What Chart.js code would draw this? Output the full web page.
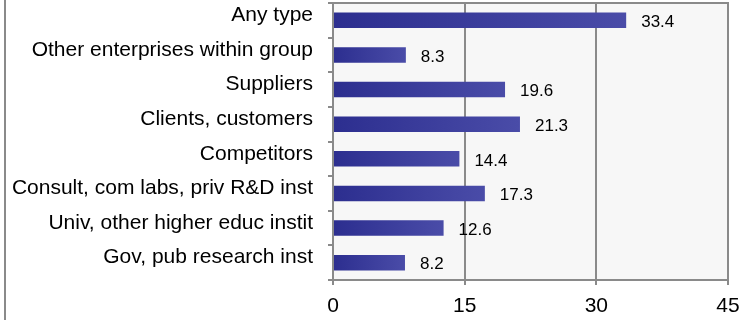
<!DOCTYPE html>
<html>
<head>
<meta charset="utf-8">
<script src="https://cdn.jsdelivr.net/npm/chart.js@4/dist/chart.umd.min.js"></script>
<style>
  html, body { margin: 0; padding: 0; background: #fff; }
  #wrap { position: relative; width: 739px; height: 320px; }
  #edge { position: absolute; left: 4px; top: 0; width: 0; height: 320px; border-left: 2px solid #8a8a8a; }
</style>
</head>
<body>
<div id="wrap">
  <div id="edge"></div>
  <canvas id="chart" width="739" height="320"></canvas>
</div>
<script>
// Share of firms by type of cooperation partner
const categories = [
  "Any type",
  "Other enterprises within group",
  "Suppliers",
  "Clients, customers",
  "Competitors",
  "Consult, com labs, priv R&D inst",
  "Univ, other higher educ instit",
  "Gov, pub research inst",
]
const values = [33.4, 8.3, 19.6, 21.3, 14.4, 17.3, 12.6, 8.2]
const xTicks = [0, 15, 30, 45]

const FONT = "'Liberation Sans', Arial, sans-serif"
const GRID = "#8a8a8a"

// each bar runs dark to light along its own length
function barGradient(ctx) {
  const chart = ctx.chart
  const area = chart.chartArea
  if (!area || ctx.raw == null) return "#35379a"
  const xs = chart.scales.x
  const x0 = xs.getPixelForValue(0)
  const x1 = xs.getPixelForValue(ctx.raw)
  const g = chart.ctx.createLinearGradient(x0, 0, Math.max(x1, x0 + 1), 0)
  g.addColorStop(0, "#2c2e8f")
  g.addColorStop(1, "#4a4ca8")
  return g
}

const plotFrame = {
  id: "plotFrame",
  beforeDraw(chart) {
    const { ctx, chartArea: a } = chart
    ctx.save()
    ctx.fillStyle = "#f7f7f7"
    ctx.fillRect(a.left, a.top, a.right - a.left, a.bottom - a.top)
    ctx.restore()
  },
  afterDraw(chart) {
    const { ctx, chartArea: a } = chart
    ctx.save()
    ctx.strokeStyle = GRID
    ctx.lineWidth = 2
    ctx.strokeRect(a.left, a.top, a.right - a.left, a.bottom - a.top)
    ctx.restore()
  },
}

const valueLabels = {
  id: "valueLabels",
  afterDatasetsDraw(chart) {
    const { ctx } = chart
    const meta = chart.getDatasetMeta(0)
    ctx.save()
    ctx.font = "17px " + FONT
    ctx.fillStyle = "#000"
    ctx.textAlign = "left"
    ctx.textBaseline = "middle"
    meta.data.forEach((bar, i) => {
      ctx.fillText(values[i].toFixed(1), bar.x + 15, bar.y + 2)
    })
    ctx.restore()
  },
}

new Chart(document.getElementById("chart"), {
  type: "bar",
  data: {
    labels: categories,
    datasets: [{
      data: values,
      backgroundColor: barGradient,
      borderWidth: 0,
      categoryPercentage: 1,
      barPercentage: 0.45,
    }],
  },
  options: {
    indexAxis: "y",
    responsive: false,
    animation: false,
    layout: { padding: { top: 3, left: 0, right: 0, bottom: 0 } },
    plugins: {
      legend: { display: false },
      tooltip: { enabled: false },
      title: { display: false },
    },
    scales: {
      x: {
        min: 0,
        max: 45,
        afterBuildTicks: (s) => { s.ticks = xTicks.map((v) => ({ value: v })) },
        afterFit: (s) => {
          s.height = 40
          s.paddingLeft = 0
          s.paddingRight = 11
        },
        ticks: { color: "#000", font: { family: FONT, size: 21 }, padding: 9 },
        grid: { color: GRID, lineWidth: 2, tickLength: 5, tickColor: GRID },
        border: { color: GRID, width: 2 },
      },
      y: {
        afterFit: (s) => {
          s.width = 333
          s.paddingTop = 0
          s.paddingBottom = 0
        },
        ticks: { color: "#000", font: { family: FONT, size: 21 }, padding: 15, labelOffset: -5, autoSkip: false },
        grid: { offset: true, drawOnChartArea: false, tickLength: 5, tickColor: GRID, lineWidth: 2 },
        border: { color: GRID, width: 2 },
      },
    },
  },
  plugins: [plotFrame, valueLabels],
})
</script>
</body>
</html>
